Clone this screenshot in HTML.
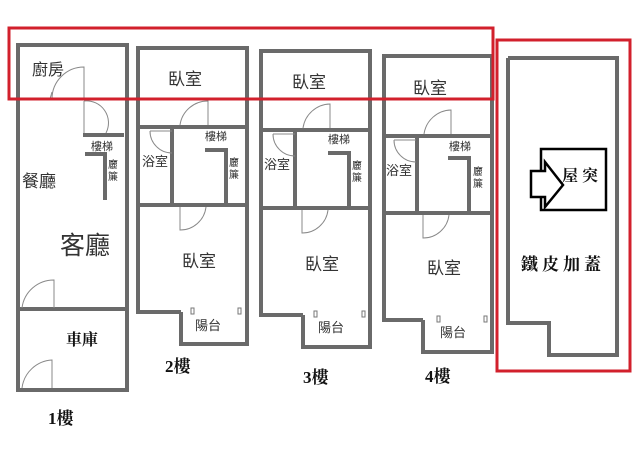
<!DOCTYPE html>
<html><head><meta charset="utf-8"><style>
html,body{margin:0;padding:0;background:#fff;width:640px;height:454px;overflow:hidden}
text{font-family:"Liberation Sans","Noto Sans CJK TC",sans-serif;fill:#333}
.s{font-family:"Liberation Serif","Noto Serif CJK SC",serif;font-weight:bold;fill:#111}
</style></head><body>
<svg width="640" height="454" viewBox="0 0 640 454" xmlns="http://www.w3.org/2000/svg">
<g fill="none" stroke="#6a6a6a" stroke-width="4">
<rect x="18" y="45" width="109" height="345"/>
<line x1="18" y1="309" x2="127" y2="309"/>
<line x1="83" y1="135" x2="124" y2="135"/>
<polyline points="85,154 105,154 105,200"/>
<polyline points="181,312 138,312 138,48 247,48 247,344 181,344 181,312"/>
<line x1="138" y1="127" x2="247" y2="127"/>
<line x1="138" y1="205" x2="247" y2="205"/>
<line x1="172" y1="127" x2="172" y2="205"/>
<polyline points="205,150 226,150 226,205"/>
<polyline points="303,315 261,315 261,51 370,51 370,347 303,347 303,315"/>
<line x1="261" y1="130" x2="370" y2="130"/>
<line x1="261" y1="208" x2="370" y2="208"/>
<line x1="295" y1="130" x2="295" y2="208"/>
<polyline points="328,153 349,153 349,208"/>
<polyline points="423,320 384,320 384,56 492,56 492,352 423,352 423,320"/>
<line x1="384" y1="136" x2="492" y2="136"/>
<line x1="384" y1="213" x2="492" y2="213"/>
<line x1="417" y1="136" x2="417" y2="213"/>
<polyline points="448,158 469,158 469,213"/>
<polyline points="508,58 617,58 617,355 549,355 549,323 508,323 508,58"/>
</g>
<g fill="none" stroke="#888" stroke-width="1">
<path d="M52,99 A32,32 0 0 1 84,67 L84,99"/><line x1="50" y1="99" x2="52" y2="92"/>
<path d="M84,101 L84,133 M84,101 A22,22 0 0 1 106,133"/>
<path d="M22,308 A32,32 0 0 1 54,280 L54,308"/>
<path d="M22,388 A32,32 0 0 1 52,360 L52,388"/>
<path d="M180,125 A28,28 0 0 1 208,101 L208,125"/>
<path d="M150,131 L172,131 M150,131 A22,22 0 0 0 172,153"/>
<path d="M180,207 L180,230 A26,26 0 0 0 206,207"/>
<path d="M303,128 A28,28 0 0 1 330,104 L330,128"/>
<path d="M273,134 L295,134 M273,134 A22,22 0 0 0 295,156"/>
<path d="M302,210 L302,233 A26,26 0 0 0 328,210"/>
<path d="M424,134 A28,28 0 0 1 451,110 L451,134"/>
<path d="M394,140 L416,140 M394,140 A22,22 0 0 0 416,162"/>
<path d="M423,215 L423,238 A26,26 0 0 0 449,215"/>
</g>
<g fill="#fff" stroke="#777" stroke-width="1">
<rect x="191" y="308" width="3" height="6"/><rect x="238" y="308" width="3" height="6"/>
<rect x="314" y="311" width="3" height="6"/><rect x="362" y="311" width="3" height="6"/>
<rect x="437" y="316" width="3" height="6"/><rect x="484" y="316" width="3" height="6"/>
</g>
<rect x="9" y="28" width="484" height="71" fill="none" stroke="#d2202c" stroke-width="3"/>
<rect x="497" y="40" width="133" height="331" fill="none" stroke="#d2202c" stroke-width="3"/>
<rect x="541" y="149" width="65" height="61" fill="#fff" stroke="#000" stroke-width="2.5"/>
<path d="M531,171 L545,171 L545,162 L563,185 L545,207 L545,197 L531,197 Z" fill="#fff" stroke="#000" stroke-width="2.5"/>
<text x="32" y="75" font-size="16">廚房</text>
<text x="168" y="85" font-size="17">臥室</text>
<text x="292" y="88" font-size="17">臥室</text>
<text x="413" y="94" font-size="17">臥室</text>
<text x="91" y="150" font-size="11">樓梯</text>
<text x="108" y="168" font-size="10">廲</text><text x="108" y="180" font-size="10">簾</text>
<text x="22" y="187" font-size="17">餐廳</text>
<text x="60" y="254" font-size="25" fill="#222">客廳</text>
<text class="s" x="66" y="345" font-size="16">車庫</text>
<text class="s" x="48" y="424" font-size="17">1樓</text>
<text x="205" y="140" font-size="11">樓梯</text>
<text x="142" y="166" font-size="13">浴室</text>
<text x="229" y="166" font-size="10">廲</text><text x="229" y="178" font-size="10">簾</text>
<text x="182" y="267" font-size="17">臥室</text>
<text x="195" y="330" font-size="13">陽台</text>
<text class="s" x="165" y="372" font-size="17">2樓</text>
<text x="328" y="143" font-size="11">樓梯</text>
<text x="264" y="169" font-size="13">浴室</text>
<text x="352" y="169" font-size="10">廲</text><text x="352" y="181" font-size="10">簾</text>
<text x="305" y="270" font-size="17">臥室</text>
<text x="318" y="332" font-size="13">陽台</text>
<text class="s" x="303" y="383" font-size="17">3樓</text>
<text x="449" y="150" font-size="11">樓梯</text>
<text x="386" y="175" font-size="13">浴室</text>
<text x="473" y="175" font-size="10">廲</text><text x="473" y="187" font-size="10">簾</text>
<text x="427" y="274" font-size="17">臥室</text>
<text x="440" y="337" font-size="13">陽台</text>
<text class="s" x="425" y="382" font-size="17">4樓</text>
<text class="s" x="562" y="181" font-size="16">屋 突</text>
<text class="s" x="521" y="270" font-size="17" letter-spacing="4">鐵皮加蓋</text>
</svg>
</body></html>
